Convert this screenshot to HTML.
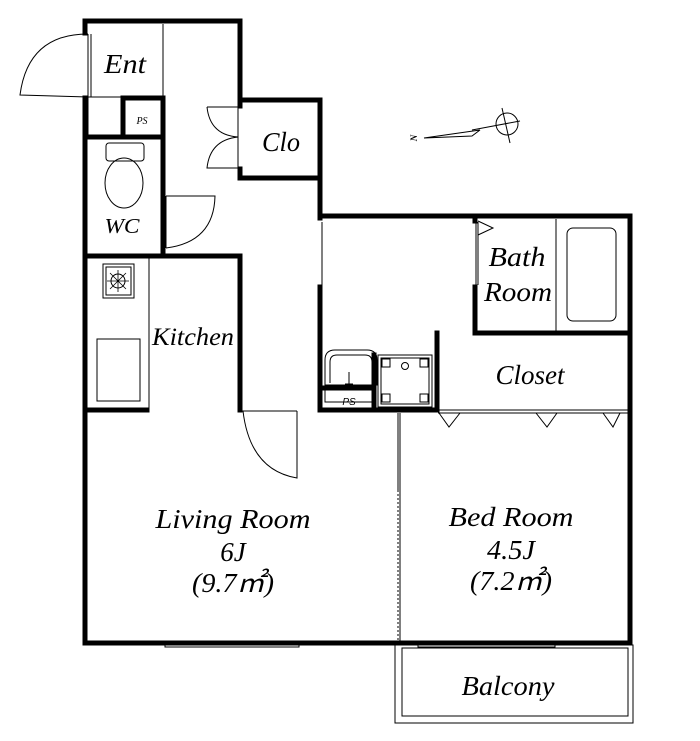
<!DOCTYPE html>
<html><head><meta charset="utf-8"><style>
html,body{margin:0;padding:0;background:#fff;}
svg{display:block;}
text{font-family:"Liberation Serif",serif;font-style:italic;fill:#000;text-anchor:middle;}
</style></head><body>
<svg width="700" height="741" viewBox="0 0 700 741" xmlns="http://www.w3.org/2000/svg">
<g fill="none" stroke="#000">
<g stroke-width="1">
<line x1="163" y1="24" x2="163" y2="97"/>
<rect x="88" y="97" width="33" height="38"/>
<line x1="88" y1="34" x2="88" y2="97"/>
<line x1="91" y1="34" x2="91" y2="97"/>
<path d="M88,34 Q28,34 20,95 L88,97"/>
<line x1="238" y1="107" x2="238" y2="168"/>
<path d="M207,107 L238,107 M207,107 Q210,135 238,137 Q210,140 207,168 L238,168"/>
<line x1="166" y1="196" x2="166" y2="248"/>
<path d="M166,196 L215,196 Q214,242 166,248"/>
<rect x="106" y="143" width="38" height="18" rx="3"/>
<ellipse cx="124" cy="183" rx="19" ry="25"/>
<line x1="149" y1="258" x2="149" y2="408"/>
<rect x="103" y="264" width="31" height="34"/>
<rect x="106" y="267" width="25" height="28"/>
<circle cx="118" cy="281" r="7"/>
<path d="M107,281 L129,281 M118,270 L118,292 M110,273 L126,289 M126,273 L110,289" stroke-width="0.8"/>
<rect x="97" y="339" width="43" height="62"/>
<line x1="322" y1="222" x2="322" y2="355"/>
<line x1="320" y1="287" x2="320" y2="355" stroke-dasharray="2,2"/>
<path d="M325,385 L325,360 Q325,350 335,350 L367,350 Q377,350 377,360 L377,385 Z"/>
<path d="M330,383 L330,362 Q330,355 337,355 L365,355 Q372,355 372,362 L372,383"/>
<line x1="349" y1="372" x2="349" y2="384"/><line x1="345" y1="384" x2="353" y2="384"/>
<rect x="325" y="388" width="48" height="14"/>
<rect x="378" y="355" width="54" height="52"/>
<rect x="381" y="358" width="48" height="46"/>
<circle cx="405" cy="366" r="3.5"/>
<rect x="382" y="359" width="8" height="8"/><rect x="420" y="359" width="8" height="8"/>
<rect x="382" y="394" width="8" height="8"/><rect x="420" y="394" width="8" height="8"/>
<line x1="476" y1="222" x2="476" y2="285"/><line x1="478" y1="222" x2="478" y2="285"/>
<path d="M478,221 L493,228 L478,235"/>
<line x1="556" y1="219" x2="556" y2="332"/>
<rect x="567" y="228" width="49" height="93" rx="6"/>
<line x1="438" y1="410" x2="630" y2="410"/>
<line x1="438" y1="413" x2="630" y2="413"/>
<path d="M439,413 L449,427 L460,413 M536,413 L547,427 L557,413 M603,413 L613,427 L620,413"/>
<path d="M297,411 L297,478 Q250,470 243,411"/>
<line x1="240" y1="411" x2="297" y2="411"/>
<line x1="400" y1="413" x2="400" y2="643"/>
<line x1="398" y1="490" x2="398" y2="643" stroke-dasharray="2,2"/>
<line x1="398" y1="413" x2="398" y2="490"/>
<rect x="165" y="643" width="134" height="4"/>
<rect x="418" y="643" width="137" height="4"/>
<rect x="395" y="645" width="238" height="78"/>
<rect x="402" y="648" width="226" height="68"/>
<path d="M424,138 L480,130 L472,136 L424,138"/>
<line x1="472" y1="130" x2="520" y2="121"/>
<circle cx="507" cy="124" r="11"/>
<path d="M502,108 L510,143"/>
</g>
<g stroke-width="5" stroke-linecap="square">
<path d="M85,21 L240,21 L240,100 L320,100 L320,218"/>
<path d="M240,100 L240,106 M240,169 L240,178 L320,178"/>
<path d="M320,216 L630,216 L630,643 L85,643 L85,98"/>
<path d="M85,21 L85,33"/>
<path d="M123,98 L163,98 L163,255 M123,98 L123,135 M85,137 L163,137"/>
<path d="M85,256 L240,256 L240,410"/>
<path d="M475,216 L475,221 M475,287 L475,333 L630,333 M437,333 L437,410"/>
<path d="M320,287 L320,410 L437,410 M374,410 L374,355 M320,388 L374,388"/>
<path d="M85,410 L147,410"/>
</g>
</g>
<text x="125" y="73" font-size="27" textLength="42" lengthAdjust="spacingAndGlyphs">Ent</text>
<text x="142" y="124" font-size="10">PS</text>
<text x="281" y="151" font-size="27" textLength="38" lengthAdjust="spacingAndGlyphs">Clo</text>
<text x="122" y="233" font-size="21" textLength="35" lengthAdjust="spacingAndGlyphs">WC</text>
<text x="193" y="345" font-size="25" textLength="82" lengthAdjust="spacingAndGlyphs">Kitchen</text>
<text x="517" y="266" font-size="27" textLength="57" lengthAdjust="spacingAndGlyphs">Bath</text>
<text x="518" y="301" font-size="27" textLength="68" lengthAdjust="spacingAndGlyphs">Room</text>
<text x="530" y="384" font-size="27" textLength="69" lengthAdjust="spacingAndGlyphs">Closet</text>
<text x="349" y="405" font-size="10" font-style="normal" style="font-family:'Liberation Sans',sans-serif">PS</text>
<text x="233" y="528" font-size="27" textLength="155" lengthAdjust="spacingAndGlyphs">Living Room</text>
<text x="233" y="561" font-size="27">6J</text>
<text x="233" y="592" font-size="27" textLength="82" lengthAdjust="spacingAndGlyphs">(9.7㎡)</text>
<text x="511" y="526" font-size="27" textLength="125" lengthAdjust="spacingAndGlyphs">Bed Room</text>
<text x="511" y="559" font-size="27" textLength="48" lengthAdjust="spacingAndGlyphs">4.5J</text>
<text x="511" y="590" font-size="27" textLength="82" lengthAdjust="spacingAndGlyphs">(7.2㎡)</text>
<text x="508" y="695" font-size="27" textLength="93" lengthAdjust="spacingAndGlyphs">Balcony</text>
<text x="414" y="141" font-size="9" font-style="normal" font-weight="bold" transform="rotate(-90 414 138)">N</text>
</svg>
</body></html>
